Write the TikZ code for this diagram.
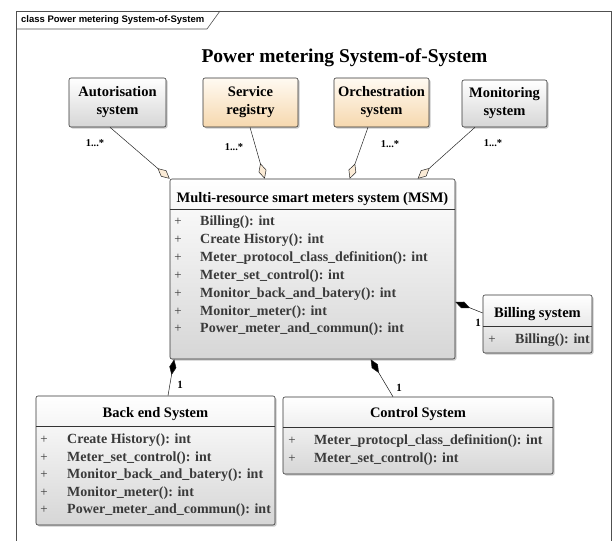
\documentclass[tikz,border=0pt]{standalone}
\usepackage{fontspec}
\setmainfont{Liberation Serif}
\newfontfamily\arialfont{Liberation Sans}
\usetikzlibrary{arrows.meta,shadows,calc}
\definecolor{peachtop}{HTML}{FFFAF2}
\definecolor{peachbot}{HTML}{F6D8AE}
\definecolor{graybot}{HTML}{D6D6D6}
\definecolor{rowtext}{HTML}{3A3A3A}
\definecolor{framec}{HTML}{505050}
\definecolor{diamfill}{HTML}{FBEBD6}
\begin{document}
\begin{tikzpicture}[x=1pt,y=-1pt,
  box/.style={draw=black!80, line width=0.6pt, rounded corners=2pt, top color=white, bottom color=graybot,
    drop shadow={shadow xshift=1.5pt, shadow yshift=-1.5pt, fill=black!35, opacity=0.6}, inner sep=0pt, align=center,
    font=\fontsize{14.5}{18}\selectfont\bfseries},
  peachbox/.style={box, top color=peachtop, bottom color=peachbot},
  ctitle/.style={font=\fontsize{14.5}{15}\selectfont\bfseries, anchor=base, inner sep=0pt},
  crow/.style={font=\fontsize{14}{14}\selectfont\bfseries, text=rowtext, anchor=base west, inner sep=0pt},
  cplus/.style={font=\fontsize{13}{14}\selectfont, text=rowtext, anchor=base, inner sep=0pt},
  sep/.style={draw=black!80, line width=0.6pt},
  mult/.style={font=\fontsize{10.5}{11}\selectfont\bfseries, inner sep=0pt},
  one/.style={font=\fontsize{11}{11}\selectfont\bfseries, inner sep=0pt},
  agg/.style={draw=black!85, line width=0.5pt, -{Diamond[open, fill=diamfill, length=16pt, width=8pt, line width=0.5pt]}},
  comp/.style={draw=black!90, line width=0.5pt, {Diamond[fill=black, length=16pt, width=7pt]}-},
]
\useasboundingbox (0,0) rectangle (616,541);
% frame
\draw[framec, line width=0.6pt] (16,541) -- (16,11) -- (611,11) -- (611,541);
\draw[framec, line width=0.6pt] (16,29) -- (207,29) -- (220,11);
\node[font=\arialfont\fontsize{9.5}{10}\selectfont\bfseries, anchor=west, inner sep=0pt] (framelabel) at (21,20) {class Power metering System-of-System};
\node[font=\fontsize{19.5}{20}\selectfont\bfseries, inner sep=0pt] (title) at (344.5,58) {Power metering System-of-System};

% top systems
\node[box, minimum width=97pt, minimum height=49pt] (auth) at (117.5,102.5) {Autorisation\\system};
\node[peachbox, minimum width=95pt, minimum height=49pt] (svc) at (250.5,102.5) {Service\\registry};
\node[peachbox, minimum width=95pt, minimum height=49pt] (orch) at (381.5,102.5) {Orchestration\\system};
\node[box, minimum width=85pt, minimum height=47pt] (mon) at (504.5,103.5) {Monitoring\\system};

% MSM
\node[box, minimum width=285pt, minimum height=180pt] (msm) at (312.5,269) {};
\draw[sep] (170,209) -- (455,209);
\node[ctitle] (msmt) at (312.5,202.5) {Multi-resource smart meters system (MSM)};
\foreach \t [count=\i from 0] in {Billing(): int, Create History(): int, Meter\_protocol\_class\_definition(): int, Meter\_set\_control(): int, Monitor\_back\_and\_batery(): int, Monitor\_meter(): int, Power\_meter\_and\_commun(): int}{
  \node[cplus] (msmp\i) at (178,225.5+17.9*\i) {+};
  \node[crow] (msmr\i) at (200,225.5+17.9*\i) {\t};
}

% Billing system
\node[box, minimum width=109pt, minimum height=58pt] (bill) at (537.5,324) {};
\draw[sep] (483,326) -- (592,326);
\node[ctitle] (billt) at (537.5,317.5) {Billing system};
\node[cplus] (billp) at (492,343.5) {+};
\node[crow] (billr) at (515,343.5) {Billing(): int};

% Back end
\node[box, minimum width=239pt, minimum height=129pt] (back) at (155.5,460.5) {};
\draw[sep] (36,426) -- (275,426);
\node[ctitle] (backt) at (155.5,417.5) {Back end System};
\foreach \t [count=\i from 0] in {Create History(): int, Meter\_set\_control(): int, Monitor\_back\_and\_batery(): int, Monitor\_meter(): int, Power\_meter\_and\_commun(): int}{
  \node[cplus] (backp\i) at (44,443.5+17.5*\i) {+};
  \node[crow] (backr\i) at (67,443.5+17.5*\i) {\t};
}

% Control
\node[box, minimum width=270pt, minimum height=77pt] (ctrl) at (418,435.5) {};
\draw[sep] (283,427) -- (553,427);
\node[ctitle] (ctrlt) at (418,417.5) {Control System};
\node[cplus] (ctrlp0) at (292,444.5) {+};
\node[crow] (ctrlr0) at (314,444.5) {Meter\_protocpl\_class\_definition(): int};
\node[cplus] (ctrlp1) at (292,462) {+};
\node[crow] (ctrlr1) at (314,462) {Meter\_set\_control(): int};

% aggregations
\draw[agg] ([xshift=-7.5pt]auth.south) -- (msm.north west);
\draw[agg] ([xshift=-0.5pt]svc.south) -- ([xshift=95pt]msm.north west);
\draw[agg] ([xshift=-13.5pt]orch.south) -- ([xshift=180pt]msm.north west);
\draw[agg] ([xshift=-29.5pt]mon.south) -- ([xshift=248pt]msm.north west);
\node[mult] (m1) at (95,143) {1...*};
\node[mult] (m2) at (234,147) {1...*};
\node[mult] (m3) at (390,144) {1...*};
\node[mult] (m4) at (493,143) {1...*};

% compositions
\draw[comp] ([xshift=4.5pt]msm.south west) -- ([xshift=12.5pt]back.north);
\draw[comp] ([xshift=201pt]msm.south west) -- ([xshift=-25pt]ctrl.north);
\draw[comp] ([yshift=-33pt]msm.east) -- ([yshift=11pt]bill.west);
\node[one] (c1) at (180,385) {1};
\node[one] (c2) at (399,388) {1};
\node[one] (c3) at (478,323) {1};
\end{tikzpicture}
\end{document}
